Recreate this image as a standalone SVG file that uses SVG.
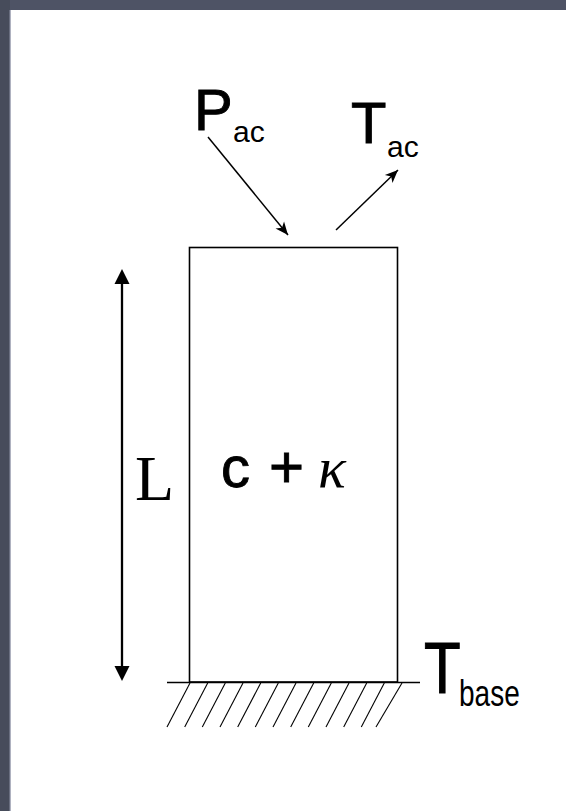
<svg xmlns="http://www.w3.org/2000/svg" width="566" height="811" viewBox="0 0 566 811">
<style>
.sans{font-family:"Liberation Sans",Arial,Helvetica,sans-serif;fill:#000}
.big{stroke:#000;stroke-width:0.9}
.serif{font-family:"Liberation Serif","Times New Roman",serif;fill:#000}
.ln{stroke:#000;fill:none}
</style>
<defs>
<marker id="head" markerUnits="userSpaceOnUse" markerWidth="16" markerHeight="14" viewBox="-15 -7 16 14" refX="0" refY="0" orient="auto">
<path d="M0,0 L-13,-5.5 L-9.5,0 L-13,5.5 Z" fill="#000"/>
</marker>
</defs>
<rect x="0" y="0" width="566" height="811" fill="#ffffff"/>
<rect x="0" y="0" width="566" height="10" fill="#4e5365"/>
<rect x="0" y="0" width="10" height="811" fill="#474c5b"/>
<rect x="9.5" y="10" width="1.2" height="801" fill="#8d92a6"/>
<g id="body">
<rect x="189.5" y="247.5" width="208" height="434.5" class="ln" stroke-width="1.6"/>
<text class="sans big" x="221" y="487" font-size="58">c</text>
<text class="sans big" x="269" y="487" font-size="60">+</text>
<text class="serif" x="318" y="487" font-size="58" font-style="italic">κ</text>
</g>
<g id="ground">
<line x1="167" y1="682.5" x2="420" y2="682.5" class="ln" stroke-width="1.3"/>
<g class="ln" stroke-width="1.1">
<line x1="190" y1="683" x2="167" y2="727"/>
<line x1="207.7" y1="683" x2="184.7" y2="727"/>
<line x1="225.3" y1="683" x2="202.3" y2="727"/>
<line x1="243" y1="683" x2="220" y2="727"/>
<line x1="260.7" y1="683" x2="237.7" y2="727"/>
<line x1="278.3" y1="683" x2="255.3" y2="727"/>
<line x1="296" y1="683" x2="273" y2="727"/>
<line x1="313.7" y1="683" x2="290.7" y2="727"/>
<line x1="331.3" y1="683" x2="308.3" y2="727"/>
<line x1="349" y1="683" x2="326" y2="727"/>
<line x1="366.7" y1="683" x2="343.7" y2="727"/>
<line x1="384.3" y1="683" x2="361.3" y2="727"/>
<line x1="402" y1="683" x2="376" y2="727"/>
</g>
</g>
<g id="label-L">
<text class="serif" x="135" y="500" font-size="64">L</text>
</g>
<g id="label-Pac">
<text class="sans big" x="194" y="130" font-size="58">P</text>
<text class="sans" x="233" y="142" font-size="30">ac</text>
</g>
<g id="label-Tac">
<text class="sans big" x="351" y="143" font-size="58">T</text>
<text class="sans" x="387" y="157" font-size="30">ac</text>
</g>
<g id="label-Tbase">
<text class="sans big" transform="translate(424,693) scale(1,1.2)" font-size="60">T</text>
<text class="sans" transform="translate(459,706) scale(1,1.35)" font-size="28">base</text>
</g>
<g id="connectors">
<line x1="122" y1="282" x2="122" y2="668" class="ln" stroke-width="2.3"/>
<polygon points="122,269 114.5,284 129.5,284" fill="#000"/>
<polygon points="122,681 114.5,666 129.5,666" fill="#000"/>
<line x1="208" y1="137" x2="288" y2="235" class="ln" stroke-width="1.5" marker-end="url(#head)"/>
<line x1="336" y1="230" x2="398" y2="170" class="ln" stroke-width="1.5" marker-end="url(#head)"/>
</g>
</svg>
